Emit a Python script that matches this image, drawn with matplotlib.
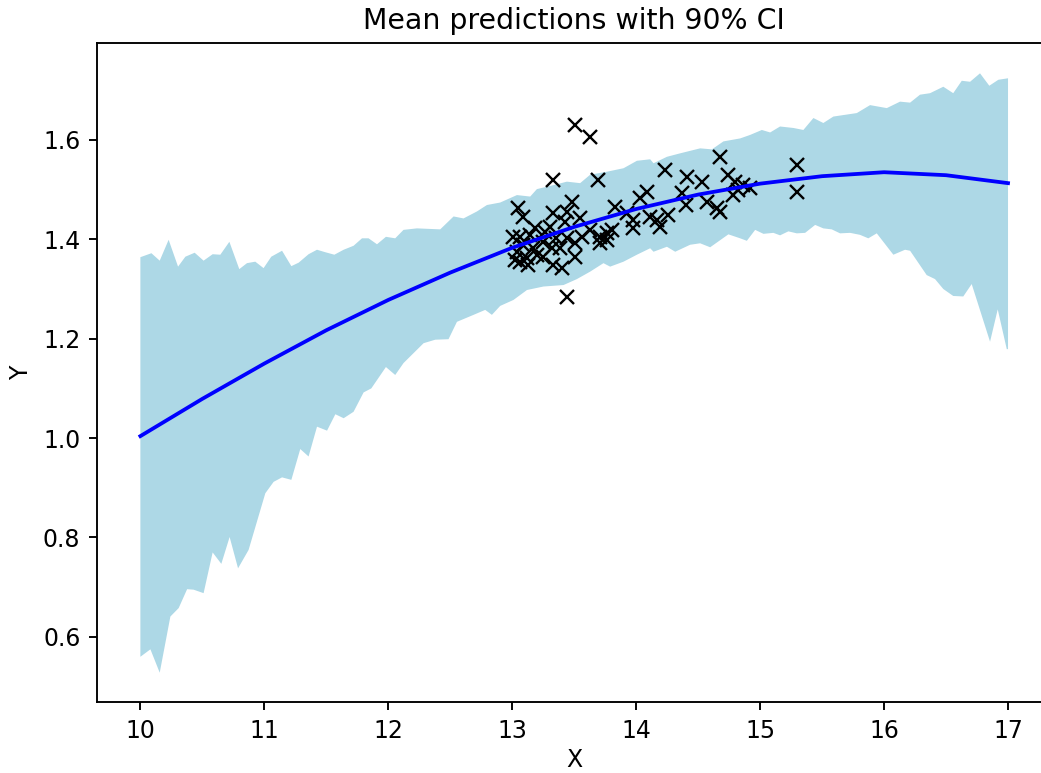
import numpy as np
import matplotlib
matplotlib.use("Agg")
import matplotlib.pyplot as plt

# observed samples
obs_x = [13.508, 13.629, 13.331, 13.694, 13.048, 13.089, 13.331, 13.484, 13.444, 13.548,
         13.185, 13.065, 13.040, 13.065, 13.121, 13.169, 13.250, 13.323, 13.250, 13.331,
         13.403, 13.387, 13.444, 13.508, 13.508, 13.565, 13.629, 13.710, 13.710, 13.766,
         13.444, 13.427, 13.145, 13.008, 13.089, 13.306, 13.202, 14.234, 14.411, 14.532,
         14.677, 14.089, 14.032, 13.831, 14.371, 14.403, 14.573, 14.653, 14.258, 14.169,
         14.194, 13.976, 13.976, 13.927, 13.806, 13.766, 14.113, 14.742, 15.298, 15.298,
         14.798, 14.782, 14.919, 14.677, 14.863, 14.823, 13.129, 13.266, 13.024, 13.355]
obs_y = [1.630, 1.606, 1.520, 1.520, 1.463, 1.445, 1.453, 1.475, 1.455, 1.443,
         1.423, 1.405, 1.375, 1.355, 1.363, 1.383, 1.395, 1.383, 1.365, 1.348,
         1.342, 1.383, 1.403, 1.393, 1.365, 1.405, 1.419, 1.405, 1.393, 1.413,
         1.284, 1.435, 1.409, 1.405, 1.389, 1.425, 1.369, 1.540, 1.526, 1.515,
         1.566, 1.495, 1.483, 1.465, 1.493, 1.469, 1.475, 1.463, 1.449, 1.439,
         1.425, 1.423, 1.439, 1.453, 1.419, 1.399, 1.445, 1.530, 1.550, 1.495,
         1.515, 1.489, 1.503, 1.455, 1.509, 1.499, 1.348, 1.415, 1.359, 1.403]

# posterior mean
mean_x = [10.0, 10.5, 11.0, 11.5, 12.0, 12.5, 13.0, 13.5, 14.0, 14.5, 15.0, 15.5, 16.0, 16.5, 17.0]
mean_y = [1.004, 1.079, 1.150, 1.217, 1.278, 1.333, 1.383, 1.425, 1.461, 1.490, 1.512, 1.527,
          1.535, 1.529, 1.513]

# 90% interval, upper edge
upper_x = [10.0, 10.089, 10.156, 10.228, 10.304, 10.363, 10.438, 10.510, 10.583, 10.645,
           10.718, 10.798, 10.860, 10.927, 10.994, 11.056, 11.143, 11.218, 11.277, 11.357,
           11.425, 11.492, 11.565, 11.640, 11.720, 11.788, 11.841, 11.909, 11.981, 12.056,
           12.123, 12.231, 12.419, 12.527, 12.607, 12.715, 12.796, 12.903, 13.038, 13.145,
           13.199, 13.333, 13.441, 13.548, 13.629, 13.764, 13.898, 14.006, 14.113, 14.140,
           14.248, 14.355, 14.516, 14.611, 14.704, 14.839, 14.919, 15.014, 15.081, 15.161,
           15.269, 15.349, 15.430, 15.510, 15.591, 15.780, 15.887, 16.022, 16.129, 16.210,
           16.290, 16.371, 16.478, 16.558, 16.627, 16.694, 16.774, 16.849, 16.922, 17.0]
upper_y = [1.364, 1.372, 1.357, 1.399, 1.345, 1.365, 1.373, 1.357, 1.370, 1.369,
           1.395, 1.340, 1.352, 1.355, 1.342, 1.365, 1.377, 1.346, 1.353, 1.370,
           1.379, 1.374, 1.369, 1.379, 1.387, 1.402, 1.402, 1.390, 1.405, 1.402,
           1.419, 1.422, 1.420, 1.446, 1.442, 1.456, 1.469, 1.474, 1.489, 1.486,
           1.501, 1.509, 1.516, 1.513, 1.530, 1.536, 1.543, 1.558, 1.561, 1.553,
           1.566, 1.573, 1.583, 1.581, 1.597, 1.603, 1.610, 1.620, 1.615, 1.627,
           1.624, 1.620, 1.644, 1.634, 1.647, 1.654, 1.670, 1.664, 1.677, 1.675,
           1.691, 1.694, 1.707, 1.694, 1.719, 1.717, 1.734, 1.709, 1.721, 1.724]

# 90% interval, lower edge
lower_x = [10.0, 10.081, 10.156, 10.242, 10.309, 10.377, 10.430, 10.510, 10.583, 10.653,
           10.720, 10.788, 10.873, 11.008, 11.075, 11.143, 11.218, 11.290, 11.357, 11.425,
           11.506, 11.573, 11.640, 11.720, 11.801, 11.863, 11.981, 12.056, 12.123, 12.285,
           12.379, 12.486, 12.554, 12.688, 12.782, 12.836, 12.903, 13.010, 13.119, 13.252,
           13.414, 13.522, 13.629, 13.736, 13.790, 13.898, 14.006, 14.113, 14.140, 14.248,
           14.315, 14.435, 14.516, 14.597, 14.744, 14.839, 14.893, 14.960, 15.027, 15.107,
           15.161, 15.228, 15.296, 15.363, 15.444, 15.510, 15.578, 15.645, 15.726, 15.806,
           15.873, 15.941, 16.075, 16.169, 16.210, 16.344, 16.411, 16.478, 16.558, 16.639,
           16.707, 16.855, 16.917, 16.990, 17.0]
lower_y = [0.560, 0.575, 0.528, 0.641, 0.658, 0.696, 0.695, 0.688, 0.770, 0.747,
           0.801, 0.738, 0.775, 0.889, 0.912, 0.921, 0.916, 0.978, 0.963, 1.023,
           1.015, 1.048, 1.040, 1.053, 1.092, 1.100, 1.143, 1.127, 1.151, 1.191,
           1.198, 1.199, 1.234, 1.248, 1.258, 1.248, 1.266, 1.278, 1.298, 1.305,
           1.308, 1.320, 1.335, 1.352, 1.345, 1.355, 1.369, 1.382, 1.375, 1.385,
           1.375, 1.389, 1.392, 1.384, 1.410, 1.402, 1.397, 1.419, 1.411, 1.413,
           1.408, 1.416, 1.412, 1.413, 1.429, 1.422, 1.420, 1.412, 1.413, 1.409,
           1.402, 1.412, 1.369, 1.379, 1.377, 1.328, 1.320, 1.300, 1.286, 1.285,
           1.310, 1.194, 1.259, 1.179, 1.179]

DPI = 170
fig = plt.figure(figsize=(1041 / DPI, 773 / DPI), dpi=DPI)
ax = fig.add_axes([97 / 1041, 71 / 773, 954.4 / 1041, 659 / 773])

# band as one closed polygon: upper edge left to right, lower edge back
band_x = upper_x + lower_x[::-1]
band_y = upper_y + lower_y[::-1]
ax.fill(band_x, band_y, color="lightblue", linewidth=0)

ax.plot(obs_x, obs_y, "kx", markersize=6, markeredgewidth=1.0, zorder=3)
ax.plot(mean_x, mean_y, color="blue", linewidth=1.6, zorder=4)

ax.set_xlim(9.65, 17.35)
ax.set_ylim(0.469, 1.795)
ax.set_xlabel("X", labelpad=2.5)
ax.set_ylabel("Y")
ax.set_title("Mean predictions with 90% CI")

fig.savefig("out.png", dpi=DPI)
